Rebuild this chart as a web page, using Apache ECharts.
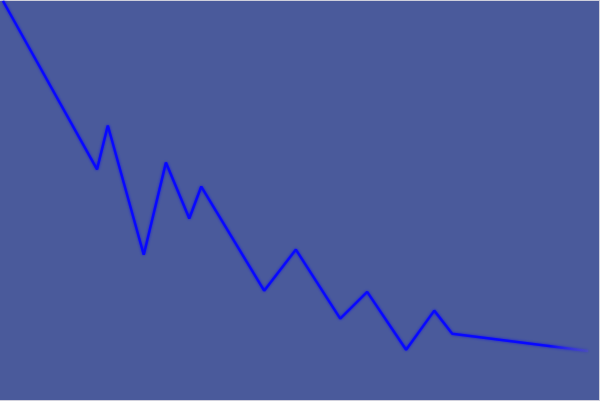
<!DOCTYPE html>
<html>
<head>
<meta charset="utf-8">
<script src="https://cdn.jsdelivr.net/npm/echarts@6/dist/echarts.min.js"></script>
<style>
html,body{margin:0;padding:0;background:#d0d0dc;}
#c{width:600px;height:401px;}
</style>
</head>
<body>
<div id="c"></div>
<script>
const xValues = [0.5, 16.2, 18.0, 24.0, 27.7, 31.6, 33.6, 44.1, 49.4, 56.8, 61.3, 67.8, 72.5, 75.5, 98.2];
const yValues = [100, 57.8, 68.8, 36.4, 59.5, 45.5, 53.5, 27.4, 37.7, 20.4, 27.1, 12.6, 22.4, 16.6, 12.3];

const data = xValues.map((x, i) => [x, yValues[i]]);

const chart = echarts.init(document.getElementById('c'));
chart.setOption({
  backgroundColor: '#d0d0dc',
  animation: false,
  grid: {
    left: 0, right: 1, top: 1, bottom: 1,
    show: true,
    backgroundColor: '#4a5a9b',
    borderWidth: 0
  },
  xAxis: { type: 'value', min: 0, max: 100, show: false },
  yAxis: { type: 'value', min: 0, max: 100, show: false },
  series: [{
    type: 'line',
    data: data,
    symbol: 'none',
    clip: false,
    lineStyle: {
      width: 2.5,
      shadowBlur: 3,
      shadowColor: 'rgba(0,0,255,0.7)',
      color: {
        type: 'linear', x: 0, y: 0, x2: 1, y2: 0,
        colorStops: [
          { offset: 0, color: '#0808ff' },
          { offset: 0.93, color: '#0808ff' },
          { offset: 1, color: 'rgba(90,70,230,0.25)' }
        ]
      }
    }
  }]
});
</script>
</body>
</html>
